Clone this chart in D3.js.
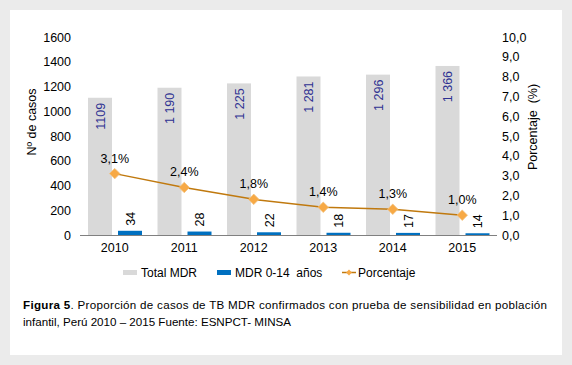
<!DOCTYPE html>
<html>
<head>
<meta charset="utf-8">
<script src="https://cdn.jsdelivr.net/npm/d3@7/dist/d3.min.js"></script>
<style>
  body { margin: 0; background: #ebebeb; font-family: "Liberation Sans", Arial, sans-serif; }
  #drawingfield { width: 572px; height: 365px; }
</style>
</head>
<body>
<div id="drawingfield"></div>
<script>
// data
var years = ["2010", "2011", "2012", "2013", "2014", "2015"];
var totalMDR = [1109, 1190, 1225, 1281, 1296, 1366];
var totalLabels = ["1109", "1 190", "1 225", "1 281", "1 296", "1 366"];
var childMDR = [34, 28, 22, 18, 17, 14];
var percent = [3.1, 2.4, 1.8, 1.4, 1.3, 1.0];
var leftTicks = [0, 200, 400, 600, 800, 1000, 1200, 1400, 1600];
var rightTicks = [0, 1, 2, 3, 4, 5, 6, 7, 8, 9, 10];

var width = 572, height = 365;

var svg = d3.select("#drawingfield")
    .append("svg")
    .attr("width", width)
    .attr("height", height);

// white panel
svg.append("rect")
    .attr("x", 10).attr("y", 10)
    .attr("width", 552).attr("height", 345)
    .attr("fill", "#ffffff");

var x = d3.scaleBand().domain(years).range([80, 497]);
var y = d3.scaleLinear().domain([0, 1600]).range([235, 37]);
var y2 = d3.scaleLinear().domain([0, 10]).range([235, 37]);

var barW = 24;

// gray bars
svg.selectAll(".total")
    .data(totalMDR)
    .enter().append("rect")
    .attr("class", "total")
    .attr("x", function(d, i) { return x(years[i]) + 8; })
    .attr("y", function(d) { return y(d); })
    .attr("width", barW)
    .attr("height", function(d) { return y(0) - y(d); })
    .attr("fill", "#d9d9d9");

// blue bars
svg.selectAll(".child")
    .data(childMDR)
    .enter().append("rect")
    .attr("class", "child")
    .attr("x", function(d, i) { return x(years[i]) + 38; })
    .attr("y", function(d) { return y(d); })
    .attr("width", barW)
    .attr("height", function(d) { return y(0) - y(d); })
    .attr("fill", "#0070c0");

// labels inside gray bars
svg.selectAll(".tlab")
    .data(totalMDR)
    .enter().append("text")
    .attr("transform", function(d, i) {
        return "translate(" + (x(years[i]) + 8 + barW / 2 + 4.5) + "," + (y(d) + 5) + ") rotate(-90)";
    })
    .attr("text-anchor", "end")
    .attr("font-size", 12.5)
    .attr("fill", "#2e3192")
    .text(function(d, i) { return totalLabels[i]; });

// labels above blue bars
svg.selectAll(".clab")
    .data(childMDR)
    .enter().append("text")
    .attr("transform", function(d, i) {
        return "translate(" + (x(years[i]) + 38 + barW / 2 + 4.5) + "," + (y(d) - 5) + ") rotate(-90)";
    })
    .attr("text-anchor", "start")
    .attr("font-size", 12.5)
    .attr("fill", "#000")
    .text(function(d) { return d; });

// x axis line
svg.append("line")
    .attr("x1", 80).attr("x2", 497)
    .attr("y1", 235.5).attr("y2", 235.5)
    .attr("stroke", "#808080")
    .attr("stroke-width", 1);

// x labels
svg.selectAll(".xlab")
    .data(years)
    .enter().append("text")
    .attr("x", function(d) { return x(d) + x.bandwidth() / 2; })
    .attr("y", 252)
    .attr("text-anchor", "middle")
    .attr("font-size", 12.5)
    .text(function(d) { return d; });

// left ticks
svg.selectAll(".ly")
    .data(leftTicks)
    .enter().append("text")
    .attr("x", 71)
    .attr("y", function(d) { return y(d) + 4.5; })
    .attr("text-anchor", "end")
    .attr("font-size", 12.5)
    .text(function(d) { return d; });

// right ticks
svg.selectAll(".ry")
    .data(rightTicks)
    .enter().append("text")
    .attr("x", 502)
    .attr("y", function(d) { return y2(d) + 4.5; })
    .attr("text-anchor", "start")
    .attr("font-size", 12.5)
    .text(function(d) { return d.toFixed(1).replace(".", ","); });

// axis titles
svg.append("text")
    .attr("transform", "translate(36,122) rotate(-90)")
    .attr("text-anchor", "middle")
    .attr("font-size", 12.5)
    .text("Nº de casos");

svg.append("text")
    .attr("transform", "translate(537,127) rotate(-90)")
    .attr("text-anchor", "middle")
    .attr("font-size", 12.5)
    .attr("xml:space", "preserve")
    .text("Porcentaje  (%)");

// percentage line
var line = d3.line()
    .x(function(d, i) { return x(years[i]) + x.bandwidth() / 2; })
    .y(function(d) { return y2(d); });

svg.append("path")
    .datum(percent)
    .attr("d", line)
    .attr("fill", "none")
    .attr("stroke", "#c0790e")
    .attr("stroke-width", 1.5);

var diamond = d3.symbol().type(d3.symbolDiamond2).size(70);

svg.selectAll(".pt")
    .data(percent)
    .enter().append("path")
    .attr("d", diamond)
    .attr("transform", function(d, i) {
        return "translate(" + (x(years[i]) + x.bandwidth() / 2) + "," + y2(d) + ")";
    })
    .attr("fill", "#f7a945")
    .attr("stroke", "#f2c27f")
    .attr("stroke-width", 0.8);

svg.selectAll(".plab")
    .data(percent)
    .enter().append("text")
    .attr("x", function(d, i) { return x(years[i]) + x.bandwidth() / 2; })
    .attr("y", function(d) { return y2(d) - 11; })
    .attr("text-anchor", "middle")
    .attr("font-size", 12.5)
    .text(function(d) { return d.toFixed(1).replace(".", ",") + "%"; });

// legend
var leg = svg.append("g").attr("font-size", 12);
leg.append("rect").attr("x", 123).attr("y", 270).attr("width", 14).attr("height", 5).attr("fill", "#d9d9d9");
leg.append("text").attr("x", 141).attr("y", 276.5).text("Total MDR");
leg.append("rect").attr("x", 217).attr("y", 270).attr("width", 14).attr("height", 5).attr("fill", "#0070c0");
leg.append("text").attr("x", 235).attr("y", 276.5).attr("xml:space", "preserve").text("MDR 0-14  años");
leg.append("line").attr("x1", 342).attr("x2", 356).attr("y1", 272.5).attr("y2", 272.5)
    .attr("stroke", "#c0790e").attr("stroke-width", 1.5);
leg.append("path").attr("d", d3.symbol().type(d3.symbolDiamond2).size(22))
    .attr("transform", "translate(349,272.5)").attr("fill", "#f7a945");
leg.append("text").attr("x", 358).attr("y", 276.5).text("Porcentaje");

// caption (first line justified)
var cap = svg.append("g").attr("font-size", 11.6);
var t1 = cap.append("text").attr("x", 23).attr("y", 309)
    .attr("textLength", 524).attr("lengthAdjust", "spacing");
t1.append("tspan").attr("font-weight", "bold").text("Figura 5");
t1.append("tspan").text(". Proporción de casos de TB MDR confirmados con prueba de sensibilidad en población");
cap.append("text").attr("x", 23).attr("y", 326)
    .text("infantil, Perú 2010 – 2015 Fuente: ESNPCT- MINSA");
</script>
</body>
</html>
